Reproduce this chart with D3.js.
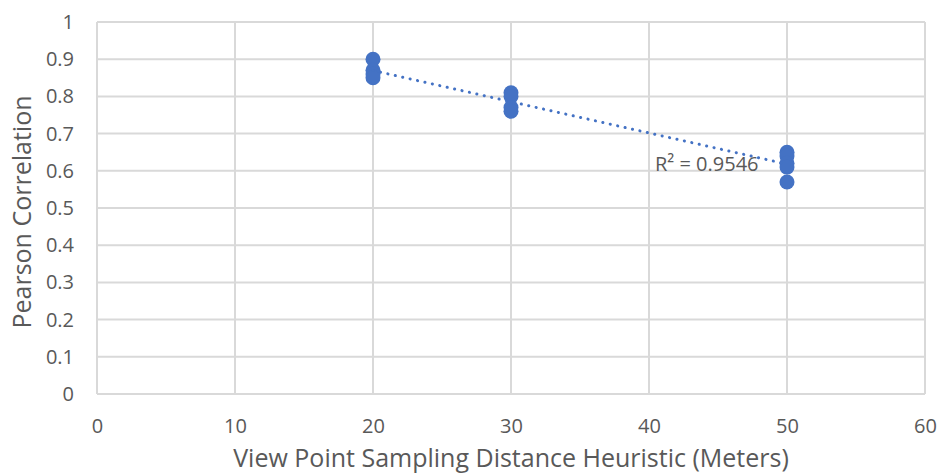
<!DOCTYPE html>
<html>
<head>
<meta charset="utf-8">
<script src="https://cdn.jsdelivr.net/npm/d3@7"></script>
<style>
  html, body { margin: 0; padding: 0; background: #fff; }
  svg text { font-family: "Open Sans", "Noto Sans", sans-serif; fill: #595959; }
</style>
</head>
<body>
<svg id="chart" width="938" height="476"></svg>
<script>
// Sampling distance (meters) for each observation
const distances = [20, 20, 20, 20, 30, 30, 30, 30, 50, 50, 50, 50, 50];
// Pearson correlation measured at each distance
const correlations = [0.90, 0.87, 0.86, 0.85, 0.81, 0.80, 0.77, 0.76, 0.65, 0.64, 0.62, 0.61, 0.57];
const xTicks = [0, 10, 20, 30, 40, 50, 60];
const yTicks = [0, 0.1, 0.2, 0.3, 0.4, 0.5, 0.6, 0.7, 0.8, 0.9, 1];
const r2Label = "R² = 0.9546";

const svg = d3.select("#chart");
const margin = { left: 97, right: 13, top: 22, bottom: 82 };
const W = 938, H = 476;

const x = d3.scaleLinear().domain([0, 60]).range([margin.left, W - margin.right]);
const y = d3.scaleLinear().domain([0, 1]).range([H - margin.bottom, margin.top]);

const grid = "#d9d9d9";
const tickFont = "20px";
const titleFont = "25px";

// Vertical gridlines
svg.append("g").selectAll("line").data(xTicks).join("line")
  .attr("x1", d => x(d)).attr("x2", d => x(d))
  .attr("y1", y(0)).attr("y2", y(1))
  .attr("stroke", grid).attr("stroke-width", 2);

// Horizontal gridlines
svg.append("g").selectAll("line").data(yTicks).join("line")
  .attr("x1", x(0)).attr("x2", x(60))
  .attr("y1", d => y(d)).attr("y2", d => y(d))
  .attr("stroke", grid).attr("stroke-width", 2);

// Axis labels (no domain line, no tick marks)
const xAxis = d3.axisBottom(x).tickValues(xTicks).tickSize(0).tickPadding(25).tickFormat(d3.format("d"));
const gx = svg.append("g").attr("transform", `translate(0,${y(0)})`).call(xAxis);
gx.select(".domain").remove();
gx.selectAll("text").style("font-size", tickFont).attr("dy", "0.71em");

const yAxis = d3.axisLeft(y).tickValues(yTicks).tickSize(0).tickPadding(23).tickFormat(d => d3.format("~g")(+d.toFixed(1)));
const gy = svg.append("g").attr("transform", `translate(${x(0)},0)`).call(yAxis);
gy.select(".domain").remove();
gy.selectAll("text").style("font-size", tickFont);

// Axis titles
svg.append("text")
  .attr("x", x(30)).attr("y", 467)
  .attr("text-anchor", "middle")
  .style("font-size", titleFont)
  .text("View Point Sampling Distance Heuristic (Meters)");

svg.append("text")
  .attr("transform", `translate(31,212) rotate(-90)`)
  .attr("text-anchor", "middle")
  .style("font-size", titleFont)
  .text("Pearson Correlation");

// Linear least-squares trend line
const n = distances.length;
const mx = d3.mean(distances), my = d3.mean(correlations);
let sxy = 0, sxx = 0;
for (let i = 0; i < n; i++) {
  sxy += (distances[i] - mx) * (correlations[i] - my);
  sxx += (distances[i] - mx) ** 2;
}
const slope = sxy / sxx, intercept = my - slope * mx;
const xMin = d3.min(distances), xMax = d3.max(distances);

const pts = distances.map((d, i) => ({ x: d, y: correlations[i] }));

svg.append("g").selectAll("circle").data(pts).join("circle")
  .attr("cx", d => x(d.x)).attr("cy", d => y(d.y))
  .attr("r", 7.5)
  .attr("fill", "#4472c4");

svg.append("line")
  .attr("x1", x(xMin)).attr("y1", y(intercept + slope * xMin))
  .attr("x2", x(xMax)).attr("y2", y(intercept + slope * xMax))
  .attr("stroke", "#4472c4")
  .attr("stroke-width", 3)
  .attr("stroke-linecap", "round")
  .attr("stroke-dasharray", "0.1 7.5");

svg.append("text")
  .attr("x", 655).attr("y", 171)
  .style("font-size", tickFont)
  .text(r2Label);
</script>
</body>
</html>
